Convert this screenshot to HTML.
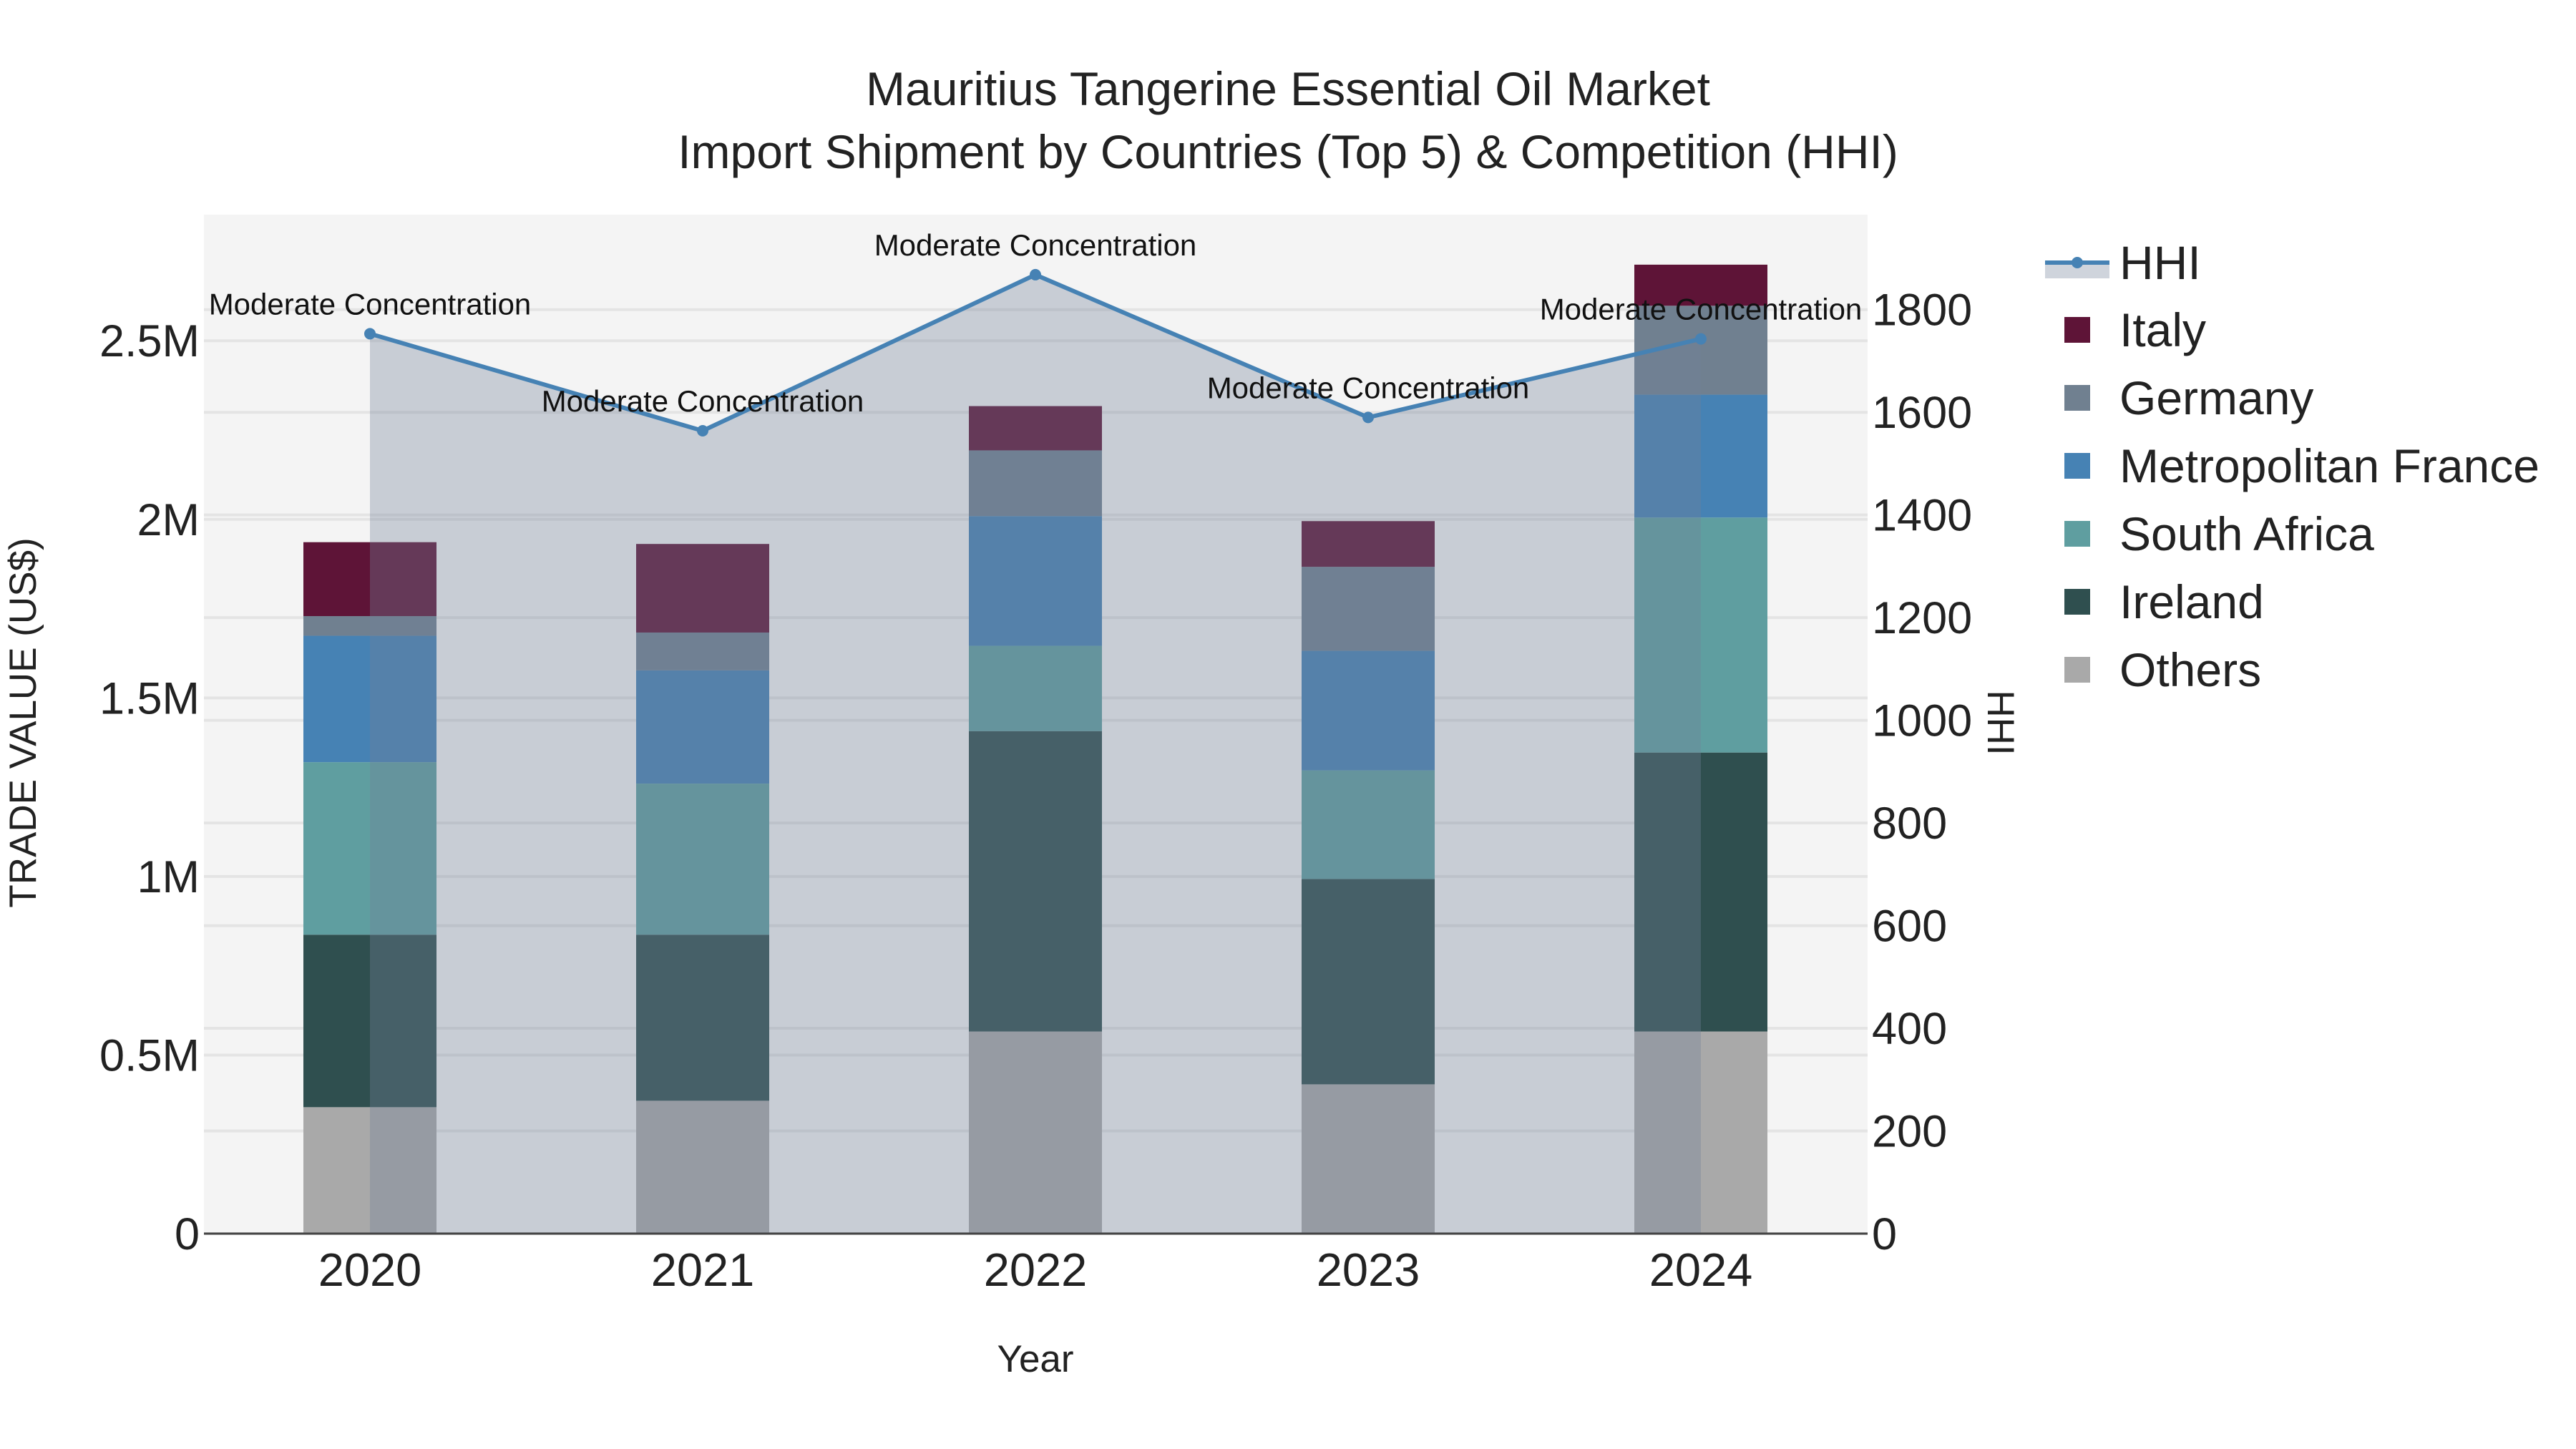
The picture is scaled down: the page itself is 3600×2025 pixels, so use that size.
<!DOCTYPE html>
<html><head><meta charset="utf-8"><style>
html,body{margin:0;padding:0;background:#fff;}
svg{display:block;font-family:"Liberation Sans",sans-serif;}
</style></head><body>
<svg id="chart" width="3600" height="2025" viewBox="0 0 3600 2025" xmlns="http://www.w3.org/2000/svg">
<rect x="0" y="0" width="3600" height="2025" fill="#ffffff"/>
<rect x="285" y="300" width="2325" height="1424" fill="#f4f4f4"/>
<g id="grid"></g><g id="bars"></g><g id="area"></g><g id="line"></g><g id="annots"></g><g id="axes"></g>
<text x="1800" y="147" font-size="66" text-anchor="middle" fill="#222">Mauritius Tangerine Essential Oil Market</text>
<text x="1800" y="235" font-size="66" text-anchor="middle" fill="#222">Import Shipment by Countries (Top 5) &amp; Competition (HHI)</text>
<text x="1447" y="1917" font-size="53" text-anchor="middle" fill="#222">Year</text>
<text x="0" y="0" font-size="53" text-anchor="middle" fill="#222" transform="translate(50,1010) rotate(-90)">TRADE VALUE (US$)</text>
<text x="0" y="0" font-size="53" text-anchor="middle" fill="#222" transform="translate(2778,1010) rotate(90)">HHI</text>
<g id="legend"></g>
</svg>
<script>
const years = ["2020","2021","2022","2023","2024"];
const others = [354000, 372000, 566000, 418000, 566000];
const ireland = [483000, 465000, 841000, 575000, 781000];
const southAfrica = [483000, 423000, 239000, 304000, 658000];
const france = [354000, 317000, 363000, 335000, 344000];
const germany = [55000, 106000, 184000, 235000, 249000];
const italy = [207000, 248000, 124000, 128000, 115000];
const hhi = [1753, 1564, 1868, 1590, 1743];
const hhiLabels = ["Moderate Concentration","Moderate Concentration","Moderate Concentration","Moderate Concentration","Moderate Concentration"];
const yTicks = [0, 500000, 1000000, 1500000, 2000000, 2500000];
const yTickLabels = ["0","0.5M","1M","1.5M","2M","2.5M"];
const y2Ticks = [0,200,400,600,800,1000,1200,1400,1600,1800];

const NS="http://www.w3.org/2000/svg";
const L=285,R=2610,T=300,B=1724;
const x0=517, dx=465, barW=186;
const xs=i=>x0+i*dx;
const y1=v=>B-v/2853000*(B-T);
const y2=v=>B-v/1985*(B-T);
function mk(tag,attrs,parent){const e=document.createElementNS(NS,tag);for(const k in attrs)e.setAttribute(k,attrs[k]);parent.appendChild(e);return e;}
const grid=document.getElementById('grid');
yTicks.forEach((t,i)=>{
  const g=mk('line',{x1:L,x2:R,y1:y1(t),y2:y1(t),stroke:'#e4e4e4','stroke-width':4},grid);
  
  
  const tx=mk('text',{x:L-6,y:y1(t)+22,'font-size':63,'text-anchor':'end',fill:'#222'},document.getElementById('axes'));
  tx.textContent=yTickLabels[i];
  
  
});
y2Ticks.forEach(t=>{
  if(t>0){const g=mk('line',{x1:L,x2:R,y1:y2(t),y2:y2(t),stroke:'#e4e4e4','stroke-width':4},grid);
  
  }
  const tx=mk('text',{x:R+6,y:y2(t)+22,'font-size':63,'text-anchor':'start',fill:'#222'},document.getElementById('axes'));
  tx.textContent=String(t);
  
  
});
years.forEach((yr,i)=>{
  const tx=mk('text',{x:xs(i),y:1797,'font-size':65,'text-anchor':'middle',fill:'#222'},document.getElementById('axes'));
  tx.textContent=yr;
  
  
});
const series=[["others",others,"#a9a9a9"],["ireland",ireland,"#2f4f4f"],["south-africa",southAfrica,"#5f9ea0"],["france",france,"#4682b4"],["germany",germany,"#708090"],["italy",italy,"#5e1437"]];
const bars=document.getElementById('bars');
years.forEach((yr,i)=>{
  let base=0;
  series.forEach(s=>{
    const v=s[1][i];
    const r=mk('rect',{x:xs(i)-barW/2,y:y1(base+v),width:barW,height:y1(base)-y1(base+v),fill:s[2]},bars);
    
    
    base+=v;
  });
});
let pts=hhi.map((h,i)=>xs(i)+','+y2(h)).join(' ');
const area=mk('polygon',{points:xs(0)+','+B+' '+pts+' '+xs(hhi.length-1)+','+B,fill:'rgb(115,129,153)','fill-opacity':0.34},document.getElementById('area'));


const ax=mk('line',{x1:L,x2:R,y1:B,y2:B,stroke:'#444','stroke-width':3},document.getElementById('axes'));


const ln=mk('polyline',{points:pts,fill:'none',stroke:'#4682b4','stroke-width':6},document.getElementById('line'));


hhi.forEach((h,i)=>{
  const c=mk('circle',{cx:xs(i),cy:y2(h),r:8,fill:'#4682b4'},document.getElementById('line'));
  
  
  const t=mk('text',{x:xs(i),y:y2(h)-27,'font-size':42,'text-anchor':'middle',fill:'#111'},document.getElementById('annots'));
  t.textContent=hhiLabels[i];
  
  
});
const leg=document.getElementById('legend');
const lg=mk('g',{},leg);


mk('rect',{x:2858,y:367,width:90,height:22,fill:'rgb(115,129,153)','fill-opacity':0.34},lg);
mk('line',{x1:2858,x2:2948,y1:367,y2:367,stroke:'#4682b4','stroke-width':6},lg);
mk('circle',{cx:2903,cy:367,r:8,fill:'#4682b4'},lg);
const lt=mk('text',{x:2962,y:390,'font-size':66,fill:'#222'},lg);lt.textContent='HHI';
const legItems=[["Italy","#5e1437"],["Germany","#708090"],["Metropolitan France","#4682b4"],["South Africa","#5f9ea0"],["Ireland","#2f4f4f"],["Others","#a9a9a9"]];
legItems.forEach((it,k)=>{
  const cy=461+k*95;
  const g=mk('g',{},leg);
  
  
  mk('rect',{x:2885,y:cy-18,width:36,height:36,fill:it[1]},g);
  const t=mk('text',{x:2962,y:cy+23,'font-size':66,fill:'#222'},g);t.textContent=it[0];
});
</script>
</body></html>
